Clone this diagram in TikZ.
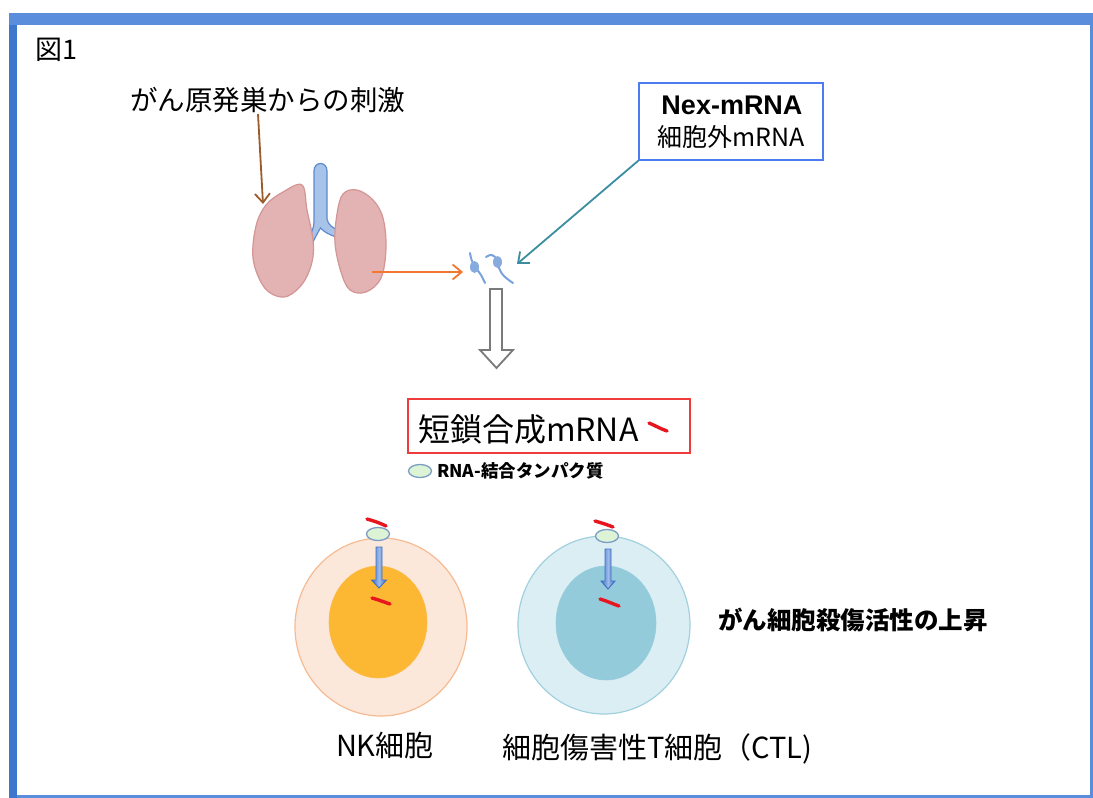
\documentclass[tikz,border=0pt]{standalone}
\usepackage{fontspec}
\setmainfont{Noto Sans CJK JP}
\newfontfamily\latinsans{Liberation Sans}
\usetikzlibrary{arrows.meta,shapes.geometric}

\definecolor{framebl}{HTML}{5A8EDC}
\definecolor{framedk}{HTML}{3E78CC}
\definecolor{lungfill}{HTML}{E3B2B2}
\definecolor{lungedge}{HTML}{D39595}
\definecolor{tracheafill}{HTML}{A8C3E8}
\definecolor{tracheaedge}{HTML}{5E8AD0}
\definecolor{stimbrown}{HTML}{9B5B2B}
\definecolor{arroworange}{HTML}{F3772E}
\definecolor{arrowteal}{HTML}{3A8EA0}
\definecolor{nexblue}{HTML}{4D7CF0}
\definecolor{boxred}{HTML}{EE3B3B}
\definecolor{dashred}{HTML}{E8141E}
\definecolor{rbpfill}{HTML}{DDF3D6}
\definecolor{rbpedge}{HTML}{7C9CC4}
\definecolor{nkouter}{HTML}{FCE8DA}
\definecolor{nkedge}{HTML}{F6BB93}
\definecolor{nkinner}{HTML}{FDB833}
\definecolor{ctlouter}{HTML}{DAEEF4}
\definecolor{ctledge}{HTML}{A2D0DE}
\definecolor{ctlinner}{HTML}{93CBDA}
\definecolor{rnablue}{HTML}{7AA2DC}
\definecolor{hollowgray}{HTML}{7A7A7A}
\definecolor{importblue}{HTML}{3F6FC4}
\definecolor{importlight}{HTML}{9DBBEA}

\tikzset{
  txt/.style={inner sep=0pt, outer sep=0pt, anchor=west, text=black},
  lobe/.style={fill=lungfill, draw=lungedge, line width=1.2pt},
  trachea/.style={fill=tracheafill, draw=tracheaedge, line width=1.2pt},
  feed/.style={line width=1.8pt, -{Straight Barb[length=9pt,width=15pt,line width=1.8pt]}},
  rnastrand/.style={draw=rnablue, line width=2pt, line cap=round},
  rnablob/.style={fill=rnablue!90},
  rdash/.style={draw=dashred, line width=3.4pt, line cap=round},
  rbp/.style={ellipse, fill=rbpfill, draw=rbpedge, line width=1.3pt, minimum width=23pt, minimum height=13pt, inner sep=0pt},
  cellout/.style={ellipse, line width=1.2pt, inner sep=0pt},
  importarrow/.style={draw=importblue, line width=0.9pt, left color=importblue, right color=importblue, middle color=importlight},
}

\begin{document}
\begin{tikzpicture}[x=1pt,y=-1pt]
\useasboundingbox (0,0) rectangle (1093,798);
\fill[white] (0,0) rectangle (1093,798);

% window frame
\fill[framebl] (9,13) rectangle (1093,798);
\fill[framedk] (9,25) rectangle (17,798);
\fill[white] (17,25) rectangle (1090,795);

% title and headings
\node[txt, font=\fontsize{27}{30}\selectfont] (title) at (35,50) {図1};
\node[txt, font=\fontsize{27.5}{30}\selectfont] (stim) at (130,100) {がん原発巣からの刺激};

% Nex-mRNA box
\node[draw=nexblue, line width=1.2pt, minimum width=184pt, minimum height=77pt, inner sep=0pt] (nex) at (731,121.5) {};
\node[inner sep=0pt, font=\latinsans\bfseries\fontsize{27}{30}\selectfont] (nexname) at (732,105) {Nex-mRNA};
\node[inner sep=0pt, font=\fontsize{25}{28}\selectfont] (nexsub) at (731,137) {細胞外mRNA};

% lungs: trachea behind the lobes
\draw[trachea] (314,222) -- (314,171) .. controls (314,161) and (327,161) .. (327,171)
  -- (327,219) .. controls (328,225) and (333,228) .. (338,230) -- (336,237)
  .. controls (330,235) and (324,232) .. (320.5,228) .. controls (318,232) and (315,238) .. (312,244)
  -- (308,239) .. controls (311,234) and (314,228) .. cycle;
\draw[lobe] plot[smooth cycle, tension=0.6] coordinates {(302,185) (307,210) (313,240) (312,262) (303,283) (288,296) (274,295) (262,284) (253,258) (256,226) (266,205) (283,192)};
\draw[lobe] plot[smooth cycle, tension=0.6] coordinates {(343,194) (357,190) (373,200) (383,218) (386,248) (381,278) (366,292) (350,290) (341,272) (335,243) (337,214)};

\coordinate (lungtop) at (263,204);
\coordinate (stimfoot) at (258,114);
\coordinate (lungright) at (372,272);

% extracellular mRNA strands
\draw[rnastrand] plot[smooth, tension=0.7] coordinates {(470,253) (472,261) (476,268) (481,275) (485,283)};
\draw[rnastrand] plot[smooth, tension=0.7] coordinates {(486,257) (492,255) (497,260) (499,268) (504,276) (513,283)};
\fill[rnablob] (474.5,267) ellipse [x radius=4.5, y radius=6];
\fill[rnablob] (497.5,262) ellipse [x radius=4.5, y radius=6];
\coordinate (mrnaleft) at (463,272);
\coordinate (mrnaright) at (517,264);

% connectors
\draw[feed, stimbrown] (stimfoot) -- (lungtop);
\draw[feed, arroworange] (lungright) -- (mrnaleft);
\draw[feed, arrowteal] (nex.south west) -- (mrnaright);

% hollow down arrow
\draw[hollowgray, fill=white, line width=1.8pt, line join=miter]
  (490,289) -- (502,289) -- (502,350) -- (513,350) -- (496.5,368) -- (480,350) -- (490,350) -- cycle;

% short synthetic mRNA box
\node[draw=boxred, line width=1.2pt, minimum width=282pt, minimum height=54pt, inner sep=0pt] (short) at (549,426) {};
\node[txt, font=\fontsize{32}{34}\selectfont] (shorttxt) at (418,429) {短鎖合成mRNA};
\draw[rdash] (649,423) .. controls (656,426) and (661,429) .. (667,431);

% legend: RNA-binding protein
\node[rbp] (legend) at (420,471) {};
\node[txt, font=\bfseries\fontsize{17.5}{20}\selectfont] (legendtxt) at (437,471) {RNA-結合タンパク質};

% NK cell
\node[cellout, fill=nkouter, draw=nkedge, minimum width=172pt, minimum height=178pt] (nkcell) at (381,627) {};
\node[ellipse, fill=nkinner, draw=nkinner!80!nkedge, line width=0.6pt, inner sep=0pt, minimum width=98pt, minimum height=112pt] (nknuc) at (378,622) {};
\node[rbp] (nkrbp) at (378,534) {};
\draw[rdash] (367,519) .. controls (374,521) and (380,523) .. (386,526);
\draw[importarrow] (376,547) -- (382,547) -- (382,580) -- (386.5,580) -- (379,588) -- (371.5,580) -- (376,580) -- cycle;
\draw[rdash] (372,598) .. controls (379,600) and (384,602) .. (390,604);

% cytotoxic T cell
\node[cellout, fill=ctlouter, draw=ctledge, minimum width=172pt, minimum height=178pt] (ctlcell) at (604,625) {};
\node[ellipse, fill=ctlinner, draw=ctlinner!80!ctledge, line width=0.6pt, inner sep=0pt, minimum width=100pt, minimum height=114pt] (ctlnuc) at (606,623) {};
\node[rbp] (ctlrbp) at (607,536) {};
\draw[rdash] (595,521) .. controls (602,523) and (608,525) .. (613,527);
\draw[importarrow] (605,549) -- (611,549) -- (611,581) -- (615,581) -- (608,589) -- (601,581) -- (605,581) -- cycle;
\draw[rdash] (600,599) .. controls (607,601) and (613,604) .. (619,606);

% effect and cell labels
\node[txt, font=\bfseries\fontsize{24.5}{27}\selectfont] (effect) at (718,620) {がん細胞殺傷活性の上昇};
\node[txt, font=\fontsize{29}{32}\selectfont] (nklabel) at (336,745) {NK細胞};
\node[txt, font=\fontsize{29}{32}\selectfont] (ctllabel) at (502,749) {細胞傷害性T細胞（CTL)};
\end{tikzpicture}
\end{document}
